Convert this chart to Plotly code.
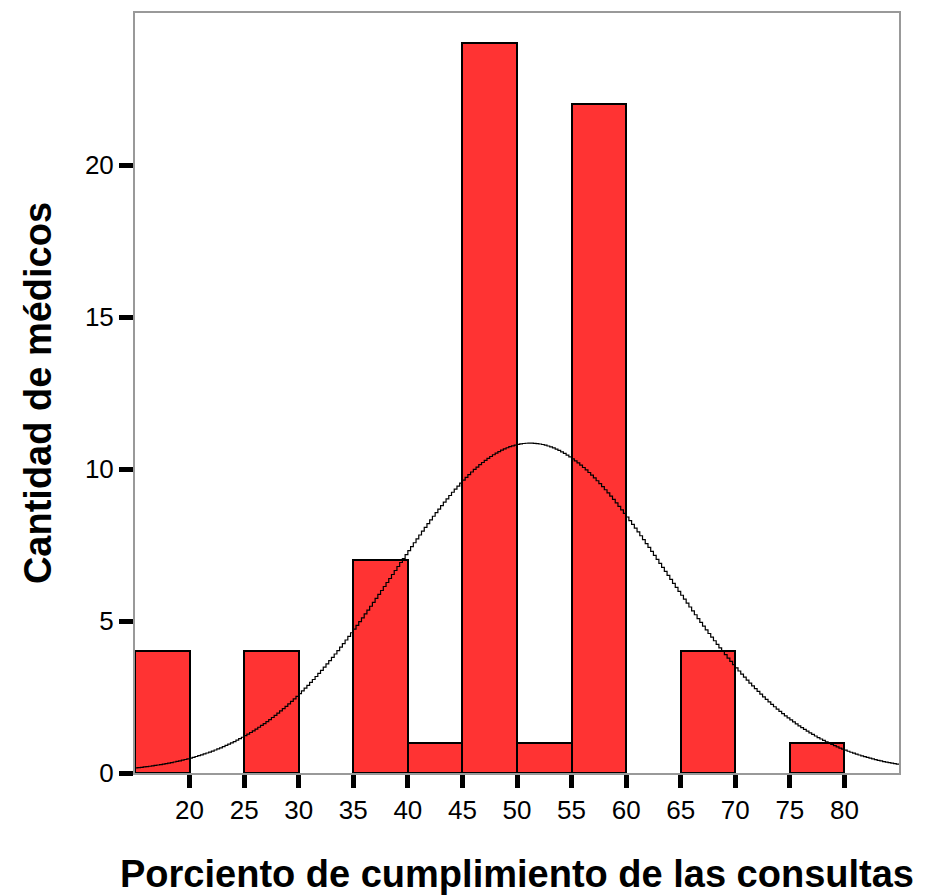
import numpy as np
import plotly.graph_objects as go

# Histogram bins (left edges) and counts
bin_left = [15, 25, 35, 40, 45, 50, 55, 65, 75]
counts = [4, 4, 7, 1, 24, 1, 22, 4, 1]
bin_width = 5

# Fitted normal curve parameters
curve_mean = 51.1
curve_sd = 12.5
n_total = sum(counts)

x_ticks = [20, 25, 30, 35, 40, 45, 50, 55, 60, 65, 70, 75, 80]
y_ticks = [0, 5, 10, 15, 20]

centers = [b + bin_width / 2 for b in bin_left]

xc = np.arange(15, 85.01, 0.25)
yc = n_total * bin_width / (curve_sd * np.sqrt(2 * np.pi)) * np.exp(-((xc - curve_mean) ** 2) / (2 * curve_sd ** 2))

fig = go.Figure()
fig.add_trace(go.Bar(
    x=centers, y=counts, width=bin_width,
    marker=dict(color="#FF3333", line=dict(color="black", width=2)),
    showlegend=False, hoverinfo="skip",
))
fig.add_trace(go.Scatter(
    x=xc, y=yc, mode="lines", line=dict(color="black", width=1.2, shape="hv"),
    showlegend=False, hoverinfo="skip",
))

fig.update_layout(
    width=919, height=888,
    margin=dict(l=127, r=28, t=3, b=123),
    paper_bgcolor="white", plot_bgcolor="white",
    font=dict(family="Liberation Sans, Arial", color="black"),
    bargap=0,
)
fig.update_xaxes(
    range=[15, 85], tickvals=x_ticks, ticktext=[str(v) for v in x_ticks],
    ticks="outside", ticklen=13, tickwidth=4.5, tickcolor="black",
    showline=True, linecolor="#999999", linewidth=2, mirror=True,
    showgrid=False, zeroline=False,
    tickfont=dict(size=26),
    title=dict(text="<b>Porciento de cumplimiento de las consultas</b>", font=dict(size=38), standoff=36),
)
fig.update_yaxes(
    range=[0, 25], tickvals=y_ticks, ticktext=[str(v) for v in y_ticks],
    ticks="outside", ticklen=14, tickwidth=4.5, tickcolor="black",
    showline=True, linecolor="#999999", linewidth=2, mirror=True,
    showgrid=False, zeroline=False,
    tickfont=dict(size=26),
    title=dict(text="<b>Cantidad de médicos</b>", font=dict(size=38), standoff=22),
)

fig.write_html("out.html")
